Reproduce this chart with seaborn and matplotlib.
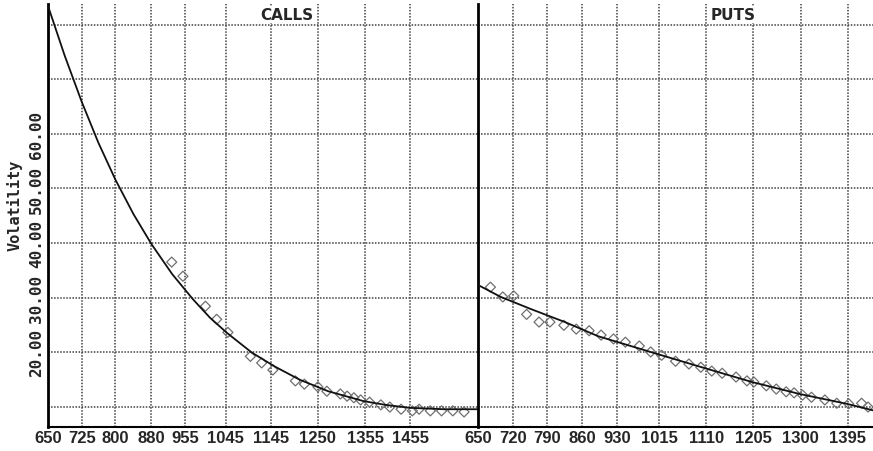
import matplotlib
matplotlib.use("Agg")
import matplotlib.pyplot as plt
import seaborn as sns
import pandas as pd

# fitted smile curves
call_curve_strike = [650, 687, 725, 762, 800, 840, 880, 926, 972, 1010, 1048, 1103, 1155, 1210,
                     1273, 1351, 1400, 1455, 1530, 1604]
call_curve_vol = [83.5, 74.4, 65.9, 58.4, 51.6, 45.3, 39.8, 34.3, 29.7, 26.3, 23.5, 19.9, 17.3,
                  14.9, 12.8, 11.0, 10.3, 9.75, 9.5, 9.5]

put_curve_strike = [650, 696, 756, 825, 892, 998, 1101, 1202, 1298, 1393, 1446]
put_curve_vol = [32.3, 30.1, 27.9, 25.5, 22.9, 20.0, 17.2, 14.5, 12.3, 10.5, 9.3]

# market points
call_strike = [925, 950, 1000, 1025, 1050, 1100, 1125, 1150, 1200, 1220, 1250, 1270, 1300, 1315,
               1330, 1345, 1365, 1390, 1410, 1435, 1460, 1475, 1500, 1525, 1550, 1575]
call_vol = [36.5, 33.9, 28.4, 26.0, 23.6, 19.2, 18.0, 16.7, 14.7, 14.1, 13.6, 12.8, 12.3, 11.9,
            11.6, 11.2, 10.8, 10.3, 9.9, 9.5, 9.2, 9.5, 9.2, 9.2, 9.2, 9.0]

put_strike = [675, 700, 722, 748, 773, 795, 823, 848, 874, 898, 923, 947, 975, 998, 1020, 1048,
              1075, 1099, 1121, 1142, 1170, 1192, 1206, 1231, 1251, 1271, 1287, 1304, 1322, 1349,
              1373, 1397, 1423, 1436]
put_vol = [31.9, 30.1, 30.3, 26.9, 25.5, 25.5, 24.9, 24.2, 23.9, 23.1, 22.4, 21.8, 21.1, 20.0,
           19.4, 18.3, 17.8, 17.2, 16.5, 16.1, 15.4, 14.7, 14.5, 13.8, 13.2, 12.7, 12.5, 12.1,
           11.7, 11.2, 10.6, 10.5, 10.6, 9.9]

call_ticks = [650, 725, 800, 880, 955, 1045, 1145, 1250, 1355, 1455]
put_ticks = [650, 720, 790, 860, 930, 1015, 1110, 1205, 1300, 1395]
vol_ticks = [10, 20, 30, 40, 50, 60, 70, 80]
vol_labels = ["", "20.00", "30.00", "40.00", "50.00", "60.00", "", ""]

sns.set_style("white")
plt.rcParams["font.family"] = ["Liberation Sans", "DejaVu Sans"]

W, H = 873, 452
fig = plt.figure(figsize=(W / 100, H / 100), dpi=100)
ax_c = fig.add_axes([48 / W, 24 / H, 430 / W, 423 / H])
ax_p = fig.add_axes([478 / W, 24 / H, 395 / W, 423 / H])

panels = [
    (ax_c, call_curve_strike, call_curve_vol, call_strike, call_vol, call_ticks, (650, 1606), "CALLS", 0.555),
    (ax_p, put_curve_strike, put_curve_vol, put_strike, put_vol, put_ticks, (650, 1446), "PUTS", 0.645),
]

for ax, cx, cy, px, py, ticks, xlim, title, tx in panels:
    sns.scatterplot(x=px, y=py, ax=ax, marker="D", s=26, facecolor="none",
                    edgecolor="#707070", linewidth=0.9, zorder=3)
    sns.lineplot(x=cx, y=cy, ax=ax, color="#111111", linewidth=1.3, sort=False, zorder=4)
    ax.set_xlim(*xlim)
    ax.set_ylim(6.24, 83.85)
    ax.set_xticks(ticks)
    ax.set_xticklabels([str(t) for t in ticks], fontsize=12, fontweight="bold")
    ax.set_yticks(vol_ticks)
    ax.grid(True, color="#404040", linestyle=(0, (1, 1)), linewidth=1.1)
    ax.tick_params(length=0, pad=2)
    for s in ["top", "right"]:
        ax.spines[s].set_visible(False)
    ax.spines["left"].set_linewidth(2)
    ax.spines["left"].set_color("black")
    ax.spines["bottom"].set_linewidth(1.5)
    ax.spines["bottom"].set_color("black")
    ax.text(tx, 0.975, title, transform=ax.transAxes, ha="center", va="center",
            fontsize=11, fontweight="bold", family="DejaVu Sans",
            bbox=dict(facecolor="white", edgecolor="none", pad=1), zorder=5)

ax_c.set_yticklabels(vol_labels, rotation=90, va="center", fontsize=11.5,
                     fontweight="bold", family="DejaVu Sans Mono")
ax_p.set_yticklabels([])
ax_c.tick_params(axis="y", pad=3)

fig.text(15 / W, 1 - 205 / H, "Volatility", rotation=90, ha="center", va="center",
         fontsize=11, fontweight="bold", family="DejaVu Sans Mono")

fig.savefig("out.png", dpi=100)
